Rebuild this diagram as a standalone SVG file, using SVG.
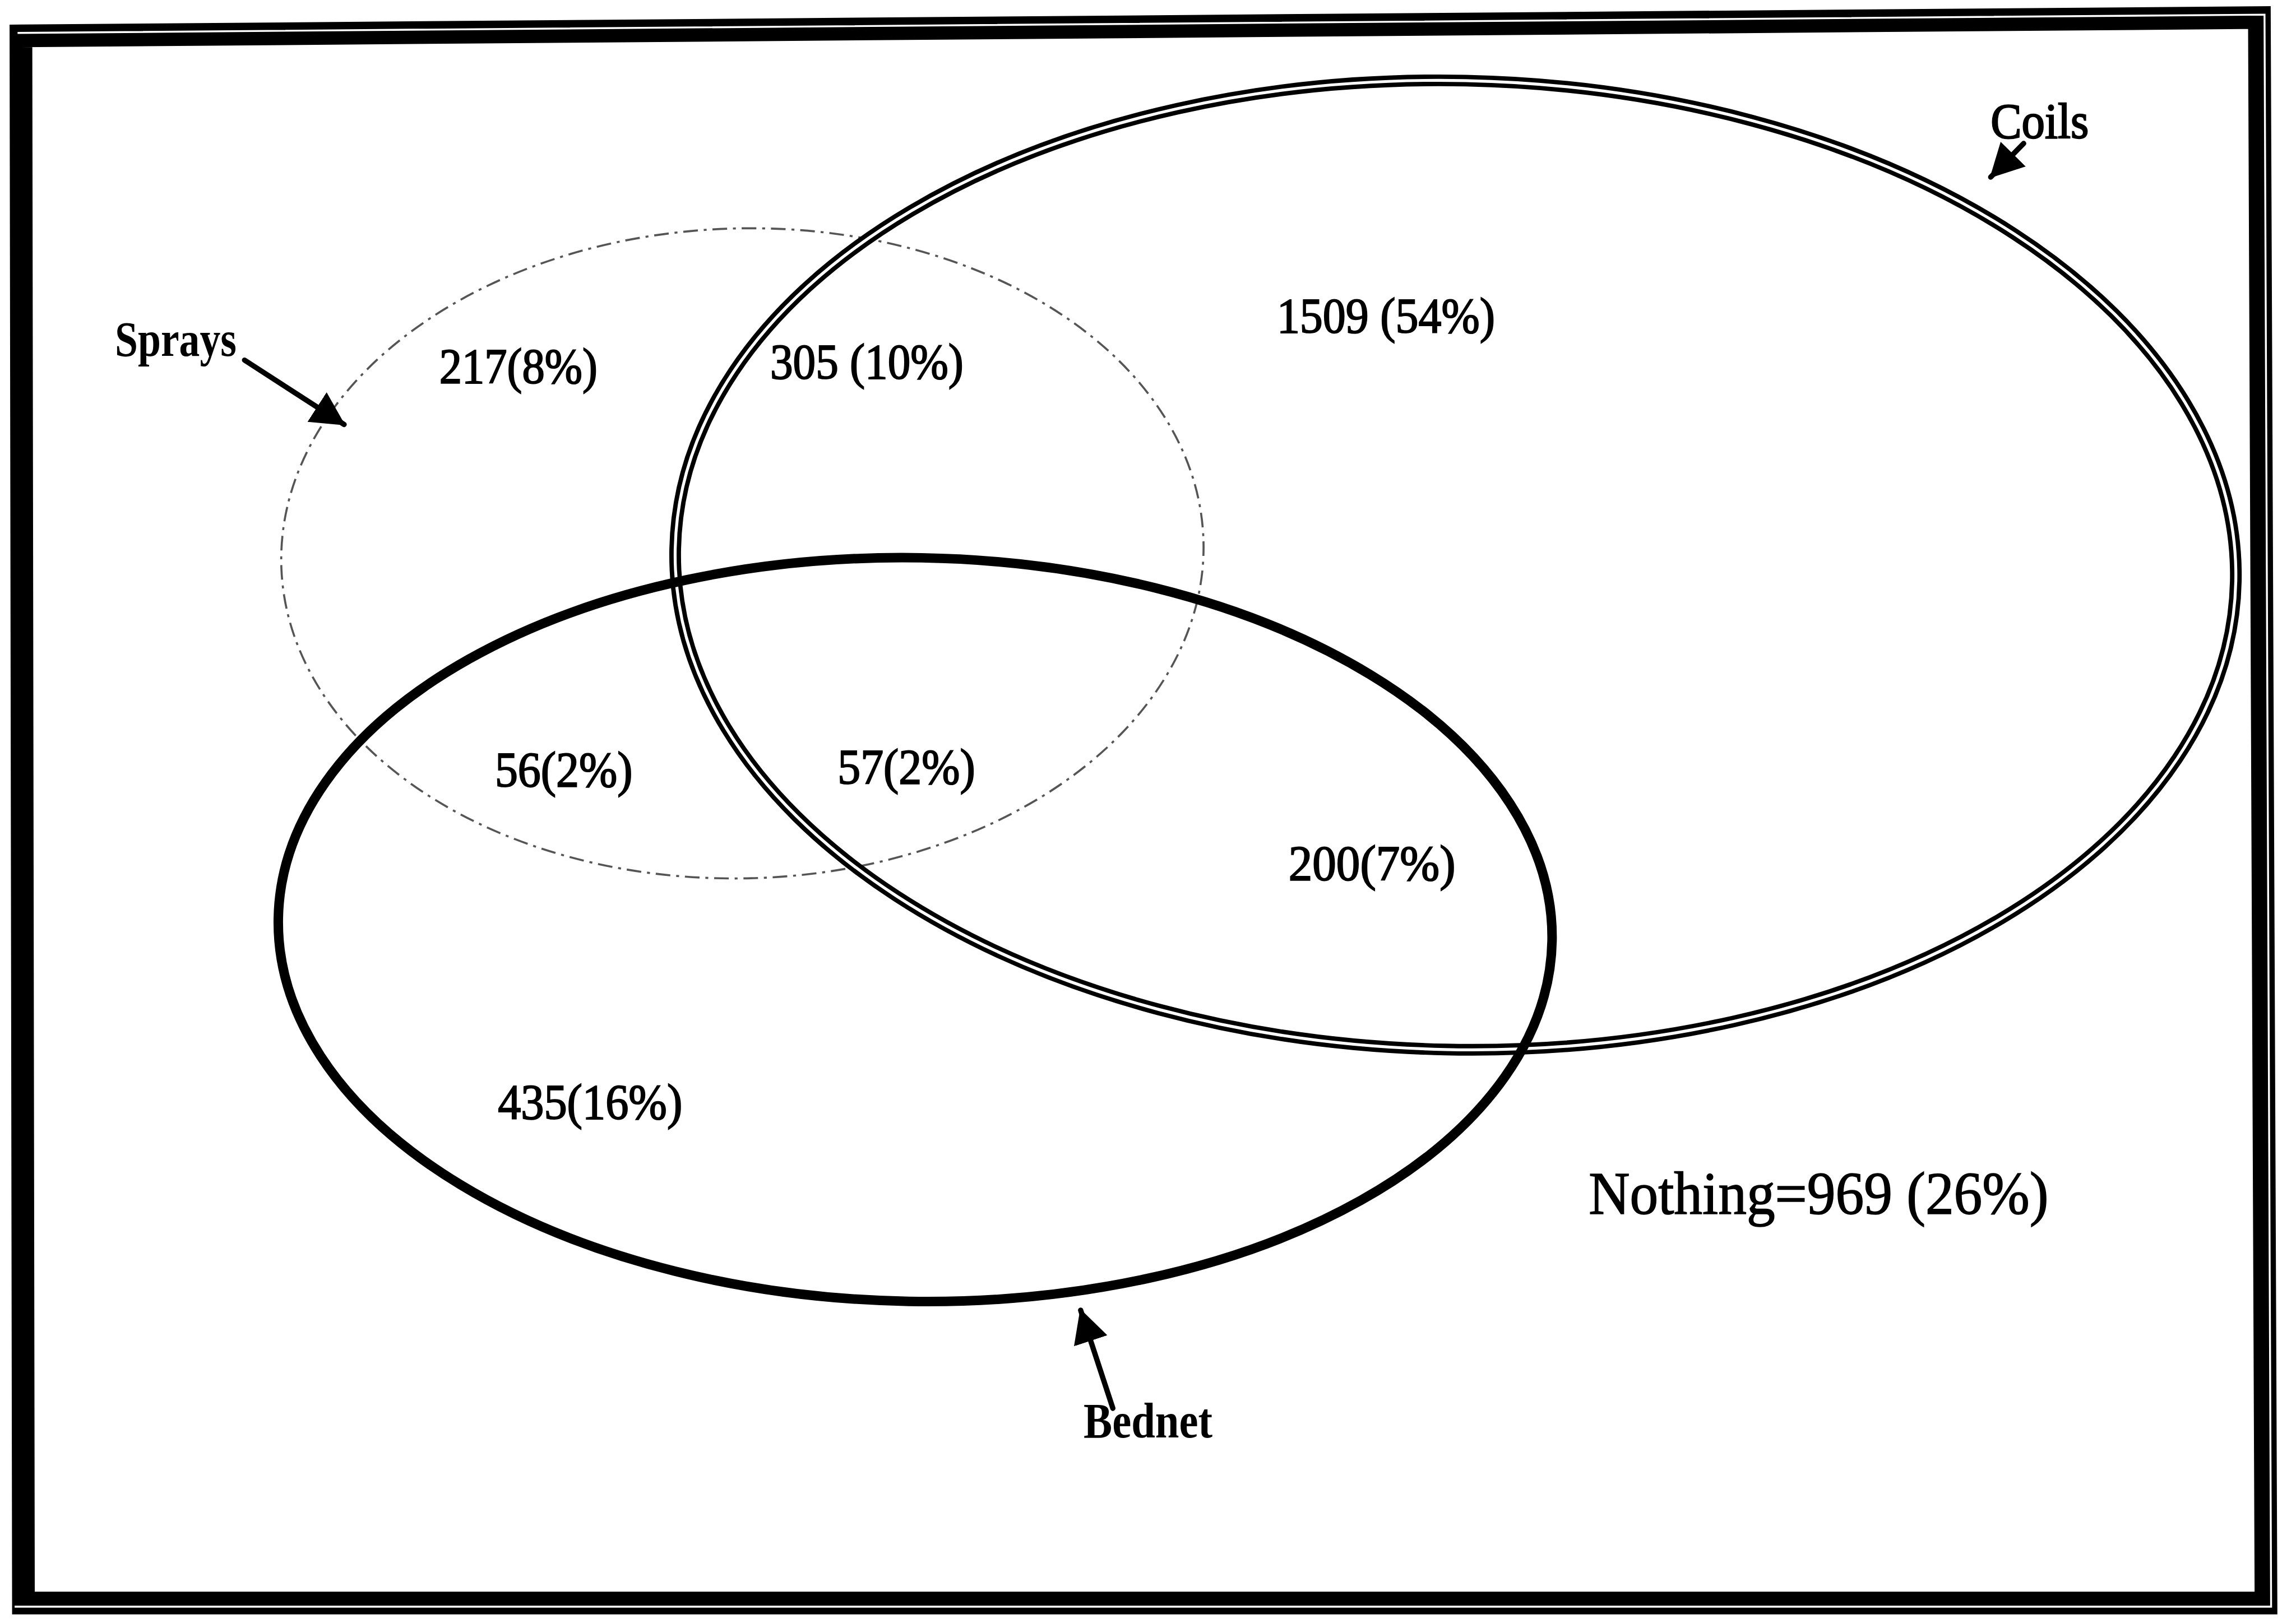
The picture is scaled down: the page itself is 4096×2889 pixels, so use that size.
<svg xmlns="http://www.w3.org/2000/svg" width="4096" height="2889" viewBox="0 0 4096 2889">
  <style>
    .txt { font-family: "Liberation Serif", "Times New Roman", serif; fill: #000; }
    .count { font-size: 34px; stroke: #000; stroke-width: 0.8; }
    .name { font-size: 34px; font-weight: bold; }
    .big { font-size: 41.5px; stroke: #000; stroke-width: 0.6; }
    .arrow { stroke: #000; stroke-width: 3.6; stroke-linecap: round; fill: none; marker-end: url(#head); }
  </style>
  <defs>
    <marker id="head" markerUnits="userSpaceOnUse" viewBox="0 0 23 24" refX="22" refY="12" markerWidth="23" markerHeight="24" orient="auto">
      <path d="M0,0 L23,12 L0,24 Z" fill="#000"/>
    </marker>
  </defs>
  <rect width="4096" height="2889" fill="#fff"/>
  <g transform="scale(2.612245)">
    <!-- outer frame: heavy band with a thin inset hairline -->
    <g id="frame">
      <polygon points="14.3,24.5 1543,12 1547.5,1095 16,1095" fill="none" stroke="#000" stroke-width="15.5" stroke-linejoin="miter"/>
      <polyline points="12,22.5 1546.5,10 1551,1097.5 10,1097.5" fill="none" stroke="#fff" stroke-width="1.3"/>
    </g>

    <!-- sprays: thin dash-dot outline -->
    <g id="sprays">
      <ellipse cx="507" cy="378" rx="315" ry="222" transform="rotate(-1.5 507 378)" fill="none" stroke="#555" stroke-width="1.4" stroke-dasharray="10 4 2 4"/>
      <text class="txt name" x="78.5" y="243" font-size="36" textLength="83" lengthAdjust="spacingAndGlyphs">Sprays</text>
    </g>

    <!-- coils: double outline -->
    <g id="coils">
      <ellipse cx="994" cy="386" rx="533" ry="331" transform="rotate(1.2 994 386)" fill="none" stroke="#000" stroke-width="8"/>
      <ellipse cx="994" cy="386" rx="533" ry="331" transform="rotate(1.2 994 386)" fill="none" stroke="#fff" stroke-width="2"/>
      <text class="txt" x="1359.5" y="94" font-size="34" stroke="#000" stroke-width="0.9" textLength="67" lengthAdjust="spacingAndGlyphs">Coils</text>
    </g>

    <!-- bednet: heavy outline -->
    <g id="bednet">
      <ellipse cx="625" cy="635" rx="435" ry="254" transform="rotate(1 625 635)" fill="none" stroke="#000" stroke-width="6.5"/>
      <text class="txt name" x="740" y="982" textLength="88" lengthAdjust="spacingAndGlyphs">Bednet</text>
    </g>

    <!-- region counts -->
    <g id="counts">
      <text class="txt count" x="300" y="261.5" textLength="108" lengthAdjust="spacingAndGlyphs">217(8%)</text>
      <text class="txt count" x="526" y="258.5" font-size="33" textLength="132" lengthAdjust="spacingAndGlyphs">305 (10%)</text>
      <text class="txt count" x="872" y="227" font-size="35" textLength="149" lengthAdjust="spacingAndGlyphs">1509 (54%)</text>
      <text class="txt count" x="338" y="537" textLength="94" lengthAdjust="spacingAndGlyphs">56(2%)</text>
      <text class="txt count" x="572" y="535" textLength="94" lengthAdjust="spacingAndGlyphs">57(2%)</text>
      <text class="txt count" x="880" y="601" textLength="114" lengthAdjust="spacingAndGlyphs">200(7%)</text>
      <text class="txt count" x="340" y="764" textLength="126" lengthAdjust="spacingAndGlyphs">435(16%)</text>
      <text class="txt big" x="1085" y="829" textLength="314" lengthAdjust="spacingAndGlyphs">Nothing=969 (26%)</text>
    </g>

    <!-- label pointers -->
    <g id="connectors">
      <line class="arrow" x1="167" y1="246" x2="235" y2="290"/>
      <line class="arrow" x1="1382" y1="98" x2="1359.5" y2="121"/>
      <line class="arrow" x1="760" y1="962" x2="738" y2="895"/>
    </g>
  </g>
</svg>
